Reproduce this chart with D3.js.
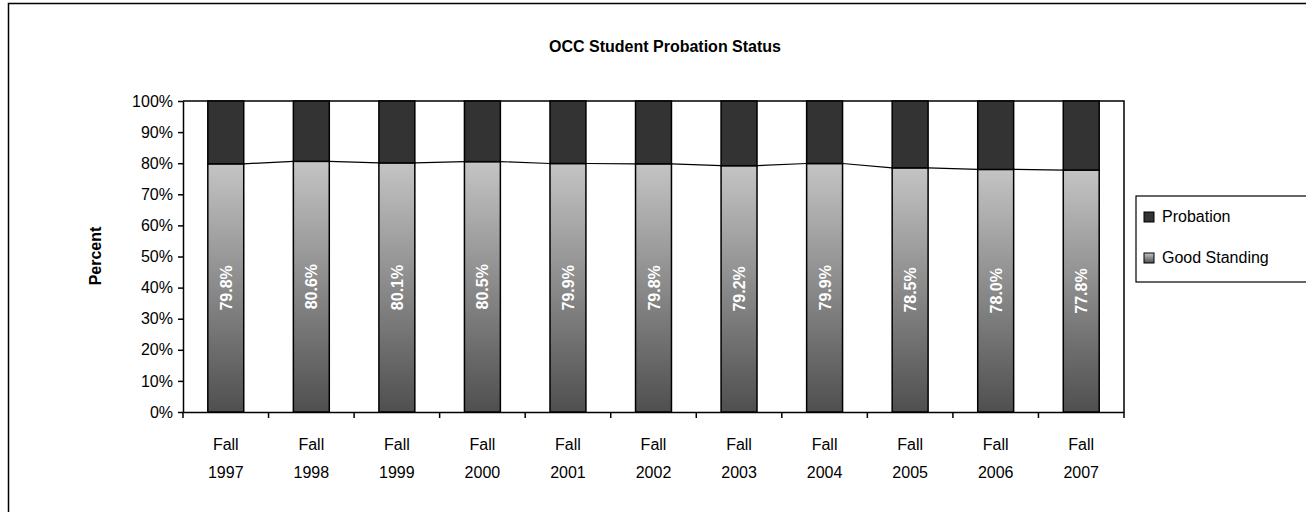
<!DOCTYPE html>
<html><head><meta charset="utf-8">
<script src="https://cdn.jsdelivr.net/npm/d3@7"></script>
<style>body{margin:0;background:#fff;font-family:"Liberation Sans",Arial,sans-serif;}</style>
</head><body>
<svg id="c" width="1306" height="512"></svg>
<script>
const categories = ["Fall 1997","Fall 1998","Fall 1999","Fall 2000","Fall 2001","Fall 2002","Fall 2003","Fall 2004","Fall 2005","Fall 2006","Fall 2007"];
const goodStanding = [79.8,80.6,80.1,80.5,79.9,79.8,79.2,79.9,78.5,78.0,77.8];
const probation = [20.2,19.4,19.9,19.5,20.1,20.2,20.8,20.1,21.5,22.0,22.2];
const yTicks = [0,10,20,30,40,50,60,70,80,90,100];
const seriesNames = ["Probation","Good Standing"];
const title = "OCC Student Probation Status";
const yTitle = "Percent";

const svg = d3.select("#c");
const font = "'Liberation Sans', Arial, sans-serif";
const defs = svg.append("defs");
const grad = defs.append("linearGradient").attr("id","gs").attr("x1",0).attr("y1",0).attr("x2",0).attr("y2",1);
grad.append("stop").attr("offset","0%").attr("stop-color","#c4c4c4");
grad.append("stop").attr("offset","100%").attr("stop-color","#4f4f4f");

// outer border (top & left visible)
svg.append("path").attr("d","M8.5,512V3.5H1306").attr("fill","none").attr("stroke","#000").attr("stroke-width",1.5);

const m = {l:183, r:1124, t:101, b:412};
const x = d3.scaleBand().domain(categories).range([m.l,m.r]).paddingInner(0.58).paddingOuter(0.29);
const xc = d3.scaleBand().domain(categories).range([m.l,m.r]);
const y = d3.scaleLinear().domain([0,100]).range([m.b,m.t]);

svg.append("text").attr("x",665).attr("y",52).attr("text-anchor","middle")
  .attr("font-family",font).attr("font-weight","bold").attr("font-size",16).text(title);

// plot frame top/right
svg.append("path").attr("d",`M${m.l},${m.t}H${m.r}V${m.b}`).attr("fill","none").attr("stroke","#000").attr("stroke-width",1.5);

// y axis
const ya = svg.append("g").attr("transform",`translate(${m.l},0)`)
  .call(d3.axisLeft(y).tickValues(yTicks).tickFormat(d=>d+"%").tickSize(5).tickSizeOuter(0));
ya.selectAll("text").attr("font-family",font).attr("font-size",16).attr("fill","#000").attr("dx","-2");
ya.selectAll("line,path").attr("stroke","#000").attr("stroke-width",1.5);

// x axis
const xa = svg.append("g").attr("transform",`translate(0,${m.b})`)
  .call(d3.axisBottom(xc).tickSize(0).tickSizeOuter(0).tickFormat(""));
xa.select("path").attr("stroke","#000").attr("stroke-width",1.5);
const xt = categories.map((c,i)=>i).concat([categories.length]);
svg.append("g").selectAll("line").data(xt).join("line")
  .attr("x1",i=>m.l+i*xc.step()).attr("x2",i=>m.l+i*xc.step())
  .attr("y1",m.b).attr("y2",m.b+6).attr("stroke","#000").attr("stroke-width",1.5);
const xl = svg.append("g").selectAll("text").data(categories).join("text")
  .attr("x",d=>xc(d)+xc.bandwidth()/2).attr("text-anchor","middle")
  .attr("font-family",font).attr("font-size",16);
xl.append("tspan").attr("x",d=>xc(d)+xc.bandwidth()/2).attr("y",450).text(d=>d.split(" ")[0]);
xl.append("tspan").attr("x",d=>xc(d)+xc.bandwidth()/2).attr("y",478).text(d=>d.split(" ")[1]);

svg.append("text").attr("transform","translate(101,256) rotate(-90)").attr("text-anchor","middle")
  .attr("font-family",font).attr("font-weight","bold").attr("font-size",16).text(yTitle);

// bars
const g = svg.append("g");
g.selectAll("rect.gs").data(categories).join("rect").attr("class","gs")
  .attr("x",d=>x(d)).attr("width",x.bandwidth())
  .attr("y",(d,i)=>y(goodStanding[i])).attr("height",(d,i)=>y(0)-y(goodStanding[i]))
  .attr("fill","url(#gs)").attr("stroke","#000").attr("stroke-width",1.5);
g.selectAll("rect.pb").data(categories).join("rect").attr("class","pb")
  .attr("x",d=>x(d)).attr("width",x.bandwidth())
  .attr("y",(d,i)=>y(goodStanding[i]+probation[i])).attr("height",(d,i)=>y(goodStanding[i])-y(goodStanding[i]+probation[i]))
  .attr("fill","#333333").attr("stroke","#000").attr("stroke-width",1.5);

// series lines
const segs = categories.slice(0,-1).map((c,i)=>[x(c)+x.bandwidth(), goodStanding[i], x(categories[i+1]), goodStanding[i+1]]);
g.selectAll("line.sl").data(segs).join("line").attr("class","sl")
  .attr("x1",d=>d[0]).attr("y1",d=>y(d[1])).attr("x2",d=>d[2]).attr("y2",d=>y(d[3]))
  .attr("stroke","#000").attr("stroke-width",1.2);

// labels
g.selectAll("text.lb").data(categories).join("text").attr("class","lb")
  .attr("transform",(d,i)=>`translate(${x(d)+x.bandwidth()/2+6},${(y(0)+y(goodStanding[i]))/2}) rotate(-90)`)
  .attr("text-anchor","middle").attr("font-family",font).attr("font-weight","bold")
  .attr("font-size",16).attr("fill","#fff").text((d,i)=>goodStanding[i].toFixed(1)+"%");

// legend
const lg = svg.append("g");
lg.append("rect").attr("x",1136).attr("y",196).attr("width",172).attr("height",86)
  .attr("fill","#fff").attr("stroke","#000").attr("stroke-width",1.2);
const fills = ["#333333","url(#gs)"];
const ly = [216,257];
seriesNames.forEach((n,i)=>{
  lg.append("rect").attr("x",1144).attr("y",ly[i]-4).attr("width",10).attr("height",10)
    .attr("fill",fills[i]).attr("stroke","#000").attr("stroke-width",1);
  lg.append("text").attr("x",1162).attr("y",ly[i]+6).attr("font-family",font).attr("font-size",16).text(n);
});
</script>
</body></html>
